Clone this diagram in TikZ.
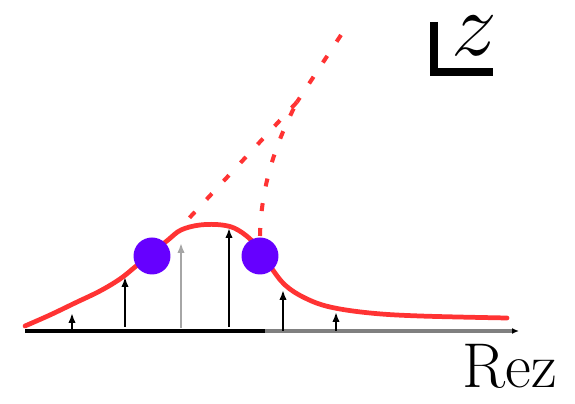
\RequirePackage{fix-cm}
\documentclass[tikz,border=0pt]{standalone}
\usepackage{xcolor}
\usepackage{tikz}
\usetikzlibrary{arrows.meta,positioning,calc}

\definecolor{curvered}{RGB}{255,51,51}
\definecolor{polevio}{RGB}{102,0,255}

\begin{document}
\begin{tikzpicture}[
  x=0.02cm, y=-0.02cm,
  >=Latex,
  curve/.style={draw=curvered, line width=2.7pt, line cap=round},
  dotline/.style={draw=curvered, line width=2.3pt, dash pattern=on 0.16cm off 0.34cm},
  vec/.style={-{Latex[length=0.2cm,width=0.15cm]}, line width=1.3pt, black},
  vecgray/.style={vec, black!35},
  pole/.style={circle, fill=polevio, inner sep=0pt, minimum size=0.74cm},
  axisline/.style={line width=1.8pt}
]
\useasboundingbox (0,0) rectangle (575,404);

% real axis
\coordinate (ax0) at (25,331);
\coordinate (axm) at (265,331);
\coordinate (ax1) at (519,331);
\draw[axisline, black] (ax0) -- (axm);
\draw[axisline, black!50, -{Latex[length=0.14cm,width=0.12cm,black]}] (axm) -- (ax1);
\node[anchor=base west, inner sep=0pt, font=\fontsize{36}{36}\selectfont] (rez) at (462,388) {Rez};

% the curve
\draw[curve] plot[smooth, tension=0.6] coordinates {(25,326) (50,315) (75,303) (100,291) (120,279) (135,267) (152,253) (168,240) (181,230) (200,225) (222,225) (238,230) (255,244) (270,266) (285,285) (305,298) (330,307) (370,313) (420,316) (507,318)};

% vectors below the curve
\foreach \xx/\yb/\yt in {72/331/313, 125/327/277, 229/327/228, 283/331/290, 336/331/312}
  \draw[vec] (\xx,\yb) -- (\xx,\yt);
\draw[vecgray] (181,328) -- (181,243);

% dotted directions
\coordinate (dA0) at (180,228);
\coordinate (meet) at (297,102);
\coordinate (dA1) at (341,35);
\coordinate (dB0) at (260,236);
\draw[dotline] (dA1) -- (meet);
\draw[dotline] (meet) -- (dA0);
\draw[dotline] (dB0) .. controls (261,180) and (280,135) .. (meet);

% poles
\node[pole] (pL) at (152,256) {};
\node[pole] (pR) at (260,256) {};

% corner mark
\draw[line width=4pt] (434,22) |- (493,72);
\node[anchor=base, inner sep=0pt, font=\fontsize{52}{52}\selectfont] (zl) at (474,56) {$z$};
\end{tikzpicture}
\end{document}
